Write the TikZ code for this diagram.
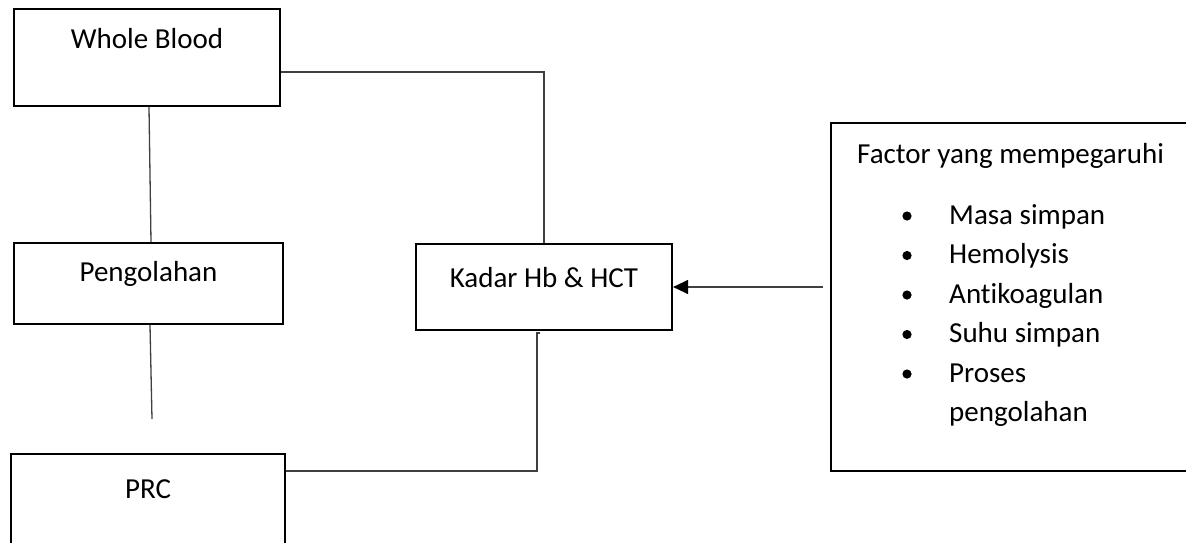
\documentclass[tikz,border=0pt]{standalone}
\usepackage{fontspec}
\setmainfont[Ligatures=NoCommon]{Carlito}
\usetikzlibrary{arrows.meta}
\begin{document}
\begin{tikzpicture}[x=1pt,y=-1pt,
  box/.style={draw=black, line width=2.2pt, inner sep=0pt},
  lbl/.style={anchor=base, inner sep=0pt, font=\fontsize{29}{35}\selectfont},
  item/.style={anchor=base west, inner sep=0pt, font=\fontsize{29}{35}\selectfont},
  link/.style={draw=black!75, line width=1.3pt},
  dot/.style={fill=black}]
\useasboundingbox (0,0) rectangle (1186,542);

% boxes
\node[box, minimum width=266pt, minimum height=97pt]  (wb)  at (147,57.5)   {};
\node[box, minimum width=269pt, minimum height=81pt]  (pg)  at (148.5,283.5) {};
\node[box, minimum width=274pt, minimum height=106pt] (prc) at (148,507)    {};
\node[box, minimum width=256pt, minimum height=86pt]  (kd)  at (544,287)    {};
\node[box, minimum width=364pt, minimum height=348pt] (fac) at (1013,297)   {};

% box captions
\node[lbl] (wbt)  at (147,48)    {Whole Blood};
\node[lbl] (pgt)  at (148.5,281) {Pengolahan};
\node[lbl] (prct) at (148,498)   {PRC};
\node[lbl] (kdt)  at (544,287)   {Kadar Hb \& HCT};

% list of factors
\node[item] (ft) at (857,163) {Factor yang mempegaruhi};
\foreach \t/\yy [count=\i] in {Masa simpan/224, Hemolysis/263.5, Antikoagulan/303, Suhu simpan/342.5, Proses/382}{
  \fill[dot] (907,\yy-8) circle (4.6pt);
  \node[item] (it\i) at (949,\yy) {\t};
}
\node[item] (it6) at (949,421.5) {pengolahan};

% connectors
\coordinate (pgend)  at (152,419);
\coordinate (kdtail) at (537,333);
\coordinate (facin)  at (823,287);
\draw[link] (wb.south -| 149,0) -- (pg.north -| 151,0);
\draw[link] (pg.south -| 150,0) -- (pgend);
\draw[link] (wb.east |- 0,72) -| (kd.north);
\draw[link] (prc.east |- 0,471) -| (kdtail) -- ++(2.5,0);
\draw[link, -{Triangle[length=15pt,width=14pt,color=black]}] (facin) -- (kd.east);
\end{tikzpicture}
\end{document}
